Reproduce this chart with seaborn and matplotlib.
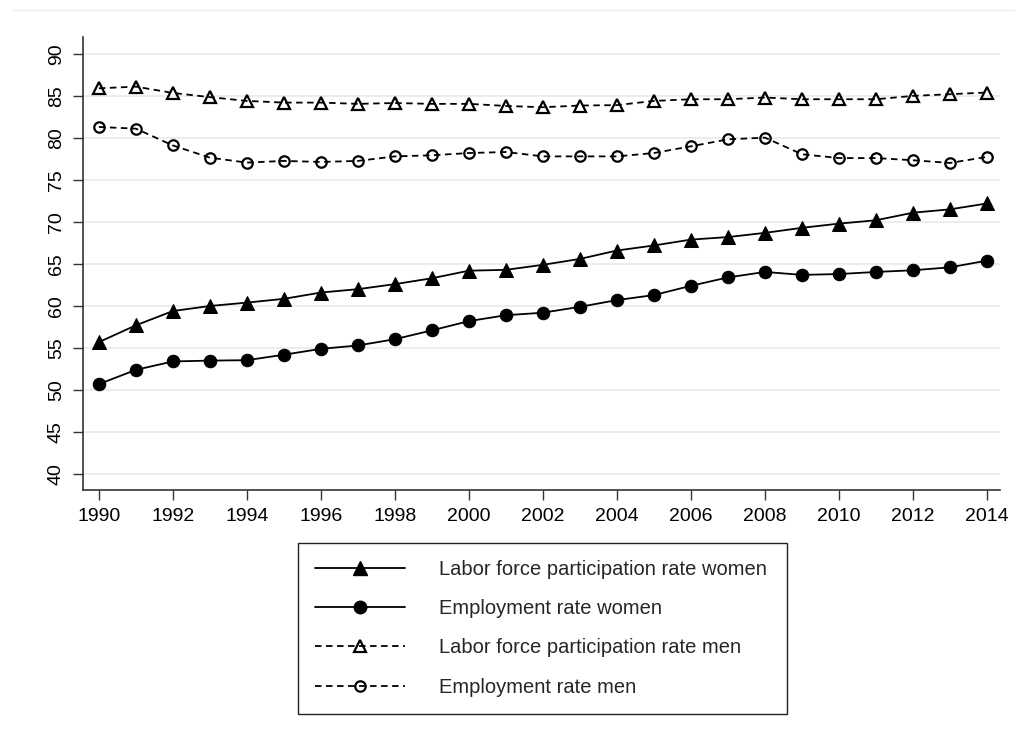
import numpy as np
import pandas as pd
import matplotlib
matplotlib.use("Agg")
import matplotlib.pyplot as plt
from matplotlib.lines import Line2D
import seaborn as sns

sns.set_theme(style="white")
plt.rcParams["font.family"] = ["Liberation Sans", "DejaVu Sans"]

# data
years = list(range(1990, 2015))
lfp_women = [55.7, 57.7, 59.4, 60.0, 60.4, 60.85, 61.6, 62.0, 62.6, 63.3, 64.2, 64.3, 64.9,
             65.6, 66.6, 67.2, 67.9, 68.2, 68.7, 69.3, 69.8, 70.2, 71.1, 71.5, 72.2]
emp_women = [50.7, 52.4, 53.4, 53.5, 53.55, 54.2, 54.9, 55.3, 56.05, 57.1, 58.2, 58.9, 59.2,
             59.9, 60.7, 61.3, 62.4, 63.4, 64.05, 63.7, 63.8, 64.05, 64.25, 64.6, 65.4]
lfp_men = [85.9, 86.1, 85.35, 84.85, 84.4, 84.2, 84.2, 84.05, 84.15, 84.05, 84.05, 83.8, 83.65,
           83.85, 83.9, 84.4, 84.6, 84.6, 84.8, 84.6, 84.6, 84.6, 85.0, 85.2, 85.4]
emp_men = [81.3, 81.1, 79.1, 77.65, 77.06, 77.26, 77.14, 77.26, 77.8, 77.93, 78.2, 78.32, 77.8,
           77.8, 77.8, 78.2, 79.0, 79.83, 80.03, 78.05, 77.6, 77.6, 77.34, 77.02, 77.74]

labels = ["Labor force participation rate women", "Employment rate women",
          "Labor force participation rate men", "Employment rate men"]

fig = plt.figure(figsize=(10.15, 7.38), dpi=100)
ax = fig.add_axes([0.0821, 0.336, 0.9031, 0.6138])

dash = (0, (3.6, 2.5))
styles = [
    dict(marker="^", markersize=10.5, mfc="black", mec="black", ls="-"),
    dict(marker="o", markersize=9, mfc="black", mec="black", ls="-"),
    dict(marker="^", markersize=8.5, mfc="none", mec="black", mew=1.6, ls=dash),
    dict(marker="o", markersize=7.5, mfc="none", mec="black", mew=1.6, ls=dash),
]
series = [lfp_women, emp_women, lfp_men, emp_men]

for vals, lab, st in zip(series, labels, styles):
    sns.lineplot(x=years, y=vals, ax=ax, color="black", lw=1.3, label=lab, **st)

ax.set_xlim(1989.58, 2014.35)
ax.set_ylim(38.1, 92.0)
ax.set_xticks(range(1990, 2015, 2))
ax.set_yticks(range(40, 91, 5))
ax.set_xlabel("")
ax.set_ylabel("")
for lbl in ax.get_yticklabels():
    lbl.set_rotation(90)
    lbl.set_va("center")

ax.yaxis.grid(True, color="#e6eef1", lw=1.3)
ax.xaxis.grid(False)
ax.set_axisbelow(True)
sns.despine(ax=ax)
for s in ["left", "bottom"]:
    ax.spines[s].set_color("#333333")
    ax.spines[s].set_linewidth(1.2)
ax.tick_params(axis="both", length=7.2, width=1, color="#333333", labelsize=14,
               labelcolor="black", pad=6, left=True, bottom=True)

handles = [Line2D([], [], color="black", lw=1.3, **st) for st in styles]
leg = ax.legend(handles, labels, loc="upper left",
                bbox_to_anchor=(0.2936, 0.0339, 0.4818, 0.2303),
                bbox_transform=fig.transFigure, mode="expand", borderaxespad=0,
                fontsize=14.5, frameon=True, fancybox=False, framealpha=1,
                edgecolor="#222222", borderpad=0.85, handlelength=4.47,
                handletextpad=1.69, labelspacing=1.0, numpoints=1)
leg.get_frame().set_linewidth(1.0)

# faint outer graph region line
fig.add_artist(Line2D([13 / 1015, 1], [1 - 10 / 738, 1 - 10 / 738],
                      transform=fig.transFigure, color="#eeeeee", lw=1))

fig.savefig("out.png", dpi=100)
